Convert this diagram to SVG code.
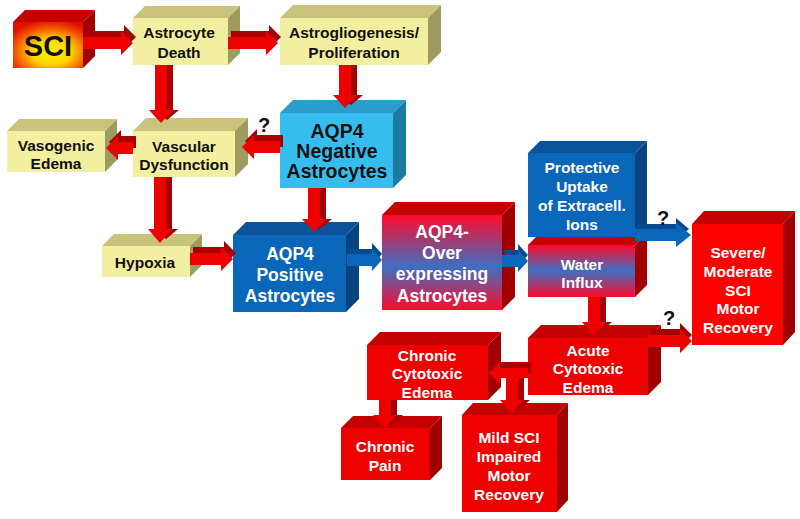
<svg xmlns="http://www.w3.org/2000/svg" width="800" height="519" viewBox="0 0 800 519">
<defs>
<radialGradient id="gSCI" cx="0.55" cy="0.65" r="0.7">
<stop offset="0" stop-color="#fff200"/><stop offset="0.4" stop-color="#ffd400"/><stop offset="0.78" stop-color="#f24a00"/><stop offset="1" stop-color="#e01000"/>
</radialGradient>
<linearGradient id="gRB" x1="0" y1="0" x2="0" y2="1">
<stop offset="0" stop-color="#ff0a2a"/><stop offset="0.55" stop-color="#3d6fc2"/><stop offset="1" stop-color="#ff0a2a"/>
</linearGradient>
<linearGradient id="gRB2" x1="0" y1="0" x2="0" y2="1">
<stop offset="0" stop-color="#ff0a2a"/><stop offset="0.5" stop-color="#3d6fc2"/><stop offset="1" stop-color="#ff0a2a"/>
</linearGradient>
</defs>
<style>
text{font-family:"Liberation Sans",Arial,sans-serif;font-weight:bold;text-anchor:middle}
.yf{fill:#f3efa0}.yt{fill:#c9c37b}.ys{fill:#9d9b5e}
.rf{fill:#ee0000}.rt{fill:#c40000}.rs{fill:#a00000}
.bf{fill:#0a66b8}.bt{fill:#0a5299}.bs{fill:#064480}
.lf{fill:#36bdef}.lt{fill:#2a9dcc}.ls{fill:#1d7ca4}
.k{fill:#111}.w{fill:#fff}
.ar{fill:#ee0000}.ad{fill:#a80000}
.ab{fill:#0a66b8}.abd{fill:#084a90}
</style>
<rect width="800" height="519" fill="#fff"/>

<g id="nodes">
<g id="sci">
<polygon class="rt" points="13,22 25,10 95,10 83,22"/>
<polygon class="rs" points="83,22 95,10 95,56 83,68"/>
<rect x="13" y="22" width="70" height="46" fill="url(#gSCI)"/>
<text x="48" y="56" font-size="29" class="k">SCI</text>
</g>
<g id="astrocyte-death">
<polygon class="yt" points="133,18 145,6 240,6 228,18"/>
<polygon class="ys" points="228,18 240,6 240,53 228,65"/>
<rect class="yf" x="133" y="18" width="95" height="47"/>
<text x="179" y="38" font-size="15.5" class="k">Astrocyte</text>
<text x="179" y="58" font-size="15.5" class="k">Death</text>
</g>
<g id="astrogliogenesis">
<polygon class="yt" points="280,18 293,5 441,5 428,18"/>
<polygon class="ys" points="428,18 441,5 441,52 428,65"/>
<rect class="yf" x="280" y="18" width="148" height="47"/>
<text x="354" y="38" font-size="15.5" class="k">Astrogliogenesis/</text>
<text x="354" y="58" font-size="15.5" class="k">Proliferation</text>
</g>
<g id="vasogenic-edema">
<polygon class="yt" points="7,131 19,119 117,119 105,131"/>
<polygon class="ys" points="105,131 117,119 117,160 105,172"/>
<rect class="yf" x="7" y="131" width="98" height="41"/>
<text x="56" y="151" font-size="15.5" class="k">Vasogenic</text>
<text x="56" y="169" font-size="15.5" class="k">Edema</text>
</g>
<g id="vascular-dysfunction">
<polygon class="yt" points="133,131 146,118 248,118 235,131"/>
<polygon class="ys" points="235,131 248,118 248,164 235,177"/>
<rect class="yf" x="133" y="131" width="102" height="46"/>
<text x="184" y="152" font-size="15.5" class="k">Vascular</text>
<text x="184" y="170" font-size="15.5" class="k">Dysfunction</text>
</g>
<g id="aqp4-negative">
<polygon class="lt" points="280,113 293,100 406,100 393,113"/>
<polygon class="ls" points="393,113 406,100 406,175 393,188"/>
<rect class="lf" x="280" y="113" width="113" height="75"/>
<text x="337" y="138" font-size="19.5" class="k">AQP4</text>
<text x="337" y="158" font-size="19.5" class="k">Negative</text>
<text x="337" y="178" font-size="19.5" class="k">Astrocytes</text>
</g>
<g id="hypoxia">
<polygon class="yt" points="102,246 114,234 202,234 190,246"/>
<polygon class="ys" points="190,246 202,234 202,265 190,277"/>
<rect class="yf" x="102" y="246" width="88" height="31"/>
<text x="145" y="268" font-size="15.5" class="k">Hypoxia</text>
</g>
<g id="aqp4-positive">
<polygon class="bt" points="233,235 246,222 359,222 346,235"/>
<polygon class="bs" points="346,235 359,222 359,299 346,312"/>
<rect class="bf" x="233" y="235" width="113" height="77"/>
<text x="290" y="260" font-size="17.5" class="w">AQP4</text>
<text x="290" y="281" font-size="17.5" class="w">Positive</text>
<text x="290" y="302" font-size="17.5" class="w">Astrocytes</text>
</g>
<g id="aqp4-over">
<polygon class="rt" points="382,215 395,202 515,202 502,215"/>
<polygon class="rs" points="502,215 515,202 515,297 502,310"/>
<rect x="382" y="215" width="120" height="95" fill="url(#gRB)"/>
<text x="442" y="238" font-size="17.5" class="w">AQP4-</text>
<text x="442" y="259" font-size="17.5" class="w">Over</text>
<text x="442" y="280" font-size="17.5" class="w">expressing</text>
<text x="442" y="302" font-size="17.5" class="w">Astrocytes</text>
</g>
<g id="water-influx">
<polygon class="rt" points="528,245 540,233 647,233 635,245"/>
<polygon class="rs" points="635,245 647,233 647,285 635,297"/>
<rect x="528" y="245" width="107" height="52" fill="url(#gRB2)"/>
<text x="582" y="270" font-size="15.5" class="w">Water</text>
<text x="582" y="288" font-size="15.5" class="w">Influx</text>
</g>
<g id="protective-uptake">
<polygon class="bt" points="528,153 540,141 647,141 635,153"/>
<polygon class="bs" points="635,153 647,141 647,225 635,237"/>
<rect class="bf" x="528" y="153" width="107" height="84"/>
<text x="582" y="173" font-size="15.5" class="w">Protective</text>
<text x="582" y="192" font-size="15.5" class="w">Uptake</text>
<text x="582" y="211" font-size="15.5" class="w">of Extracell.</text>
<text x="582" y="230" font-size="15.5" class="w">Ions</text>
</g>
<g id="severe-moderate">
<polygon class="rt" points="692,224 704,211 795,211 783,224"/>
<polygon class="rs" points="783,224 795,211 795,332 783,345"/>
<rect x="692" y="224" width="91" height="121" fill="#ff0000"/>
<text x="738" y="258" font-size="15.5" class="w">Severe/</text>
<text x="738" y="277" font-size="15.5" class="w">Moderate</text>
<text x="738" y="296" font-size="15.5" class="w">SCI</text>
<text x="738" y="314" font-size="15.5" class="w">Motor</text>
<text x="738" y="333" font-size="15.5" class="w">Recovery</text>
</g>
<g id="acute-cytotoxic">
<polygon class="rt" points="528,338 541,325 661,325 648,338"/>
<polygon class="rs" points="648,338 661,325 661,382 648,395"/>
<rect class="rf" x="528" y="338" width="120" height="57"/>
<text x="588" y="356" font-size="15.5" class="w">Acute</text>
<text x="588" y="374" font-size="15.5" class="w">Cytotoxic</text>
<text x="588" y="393" font-size="15.5" class="w">Edema</text>
</g>
<g id="chronic-cytotoxic">
<polygon class="rt" points="367,345 380,332 501,332 488,345"/>
<polygon class="rs" points="488,345 501,332 501,387 488,400"/>
<rect class="rf" x="367" y="345" width="121" height="55"/>
<text x="427" y="361" font-size="15.5" class="w">Chronic</text>
<text x="427" y="379" font-size="15.5" class="w">Cytotoxic</text>
<text x="427" y="398" font-size="15.5" class="w">Edema</text>
</g>
<g id="chronic-pain">
<polygon class="rt" points="341,428 353,416 442,416 430,428"/>
<polygon class="rs" points="430,428 442,416 442,468 430,480"/>
<rect class="rf" x="341" y="428" width="89" height="52"/>
<text x="385" y="452" font-size="15.5" class="w">Chronic</text>
<text x="385" y="471" font-size="15.5" class="w">Pain</text>
</g>
<g id="mild-sci">
<polygon class="rt" points="462,415 473,403 568,403 557,415"/>
<polygon class="rs" points="557,415 568,403 568,500 557,512"/>
<rect class="rf" x="462" y="415" width="95" height="97"/>
<text x="509" y="443" font-size="15.5" class="w">Mild SCI</text>
<text x="509" y="462" font-size="15.5" class="w">Impaired</text>
<text x="509" y="481" font-size="15.5" class="w">Motor</text>
<text x="509" y="500" font-size="15.5" class="w">Recovery</text>
</g>
</g>

<g id="connectors">
<g transform="translate(83,43)">
<polygon class="ad" points="3,-12 41,-12 41,-18 53,-6 41,6 41,0 3,0"/>
<polygon class="ar" points="0,-6 38,-6 38,-12 50,0 38,12 38,6 0,6"/>
</g>
<g transform="translate(228,43)">
<polygon class="ad" points="3,-12 41,-12 41,-18 53,-6 41,6 41,0 3,0"/>
<polygon class="ar" points="0,-6 38,-6 38,-12 50,0 38,12 38,6 0,6"/>
</g>
<g transform="translate(161,65)">
<polygon class="ad" points="0,0 12,0 12,45 18,45 6,55 -6,45 0,45"/>
<polygon class="ar" points="-6,0 6,0 6,45 12,45 0,58 -12,45 -6,45"/>
</g>
<g transform="translate(345,65)">
<polygon class="ad" points="0,0 12,0 12,30 18,30 6,40 -6,30 0,30"/>
<polygon class="ar" points="-6,0 6,0 6,30 12,30 0,43 -12,30 -6,30"/>
</g>
<g transform="translate(280,147)">
<polygon class="ad" points="3,-12 -23,-12 -23,-18 -35,-6 -23,6 -23,0 3,0"/>
<polygon class="ar" points="0,-6 -26,-6 -26,-12 -38,0 -26,12 -26,6 0,6"/>
</g>
<g transform="translate(133,148)">
<polygon class="ad" points="3,-12 -12,-12 -12,-18 -24,-6 -12,6 -12,0 3,0"/>
<polygon class="ar" points="0,-6 -15,-6 -15,-12 -27,0 -15,12 -15,6 0,6"/>
</g>
<g transform="translate(160,177)">
<polygon class="ad" points="0,0 12,0 12,52 18,52 6,62 -6,52 0,52"/>
<polygon class="ar" points="-6,0 6,0 6,52 12,52 0,66 -12,52 -6,52"/>
</g>
<g transform="translate(314,188)">
<polygon class="ad" points="0,0 12,0 12,31 18,31 6,41 -6,31 0,31"/>
<polygon class="ar" points="-6,0 6,0 6,31 12,31 0,44 -12,31 -6,31"/>
</g>
<g transform="translate(190,259)">
<polygon class="ad" points="3,-12 34,-12 34,-18 46,-6 34,6 34,0 3,0"/>
<polygon class="ar" points="0,-6 31,-6 31,-12 43,0 31,12 31,6 0,6"/>
</g>
<g transform="translate(347,260)">
<polygon class="abd" points="2,-11 25,-11 25,-17 35,-6 25,5 25,0 2,0"/>
<polygon class="ab" points="0,-6 25,-6 25,-11 35,0 25,11 25,6 0,6"/>
</g>
<g transform="translate(502,261)">
<polygon class="abd" points="2,-11 16,-11 16,-17 26,-6 16,5 16,0 2,0"/>
<polygon class="ab" points="0,-6 16,-6 16,-11 26,0 16,11 16,6 0,6"/>
</g>
<g transform="translate(635,235)">
<polygon class="abd" points="2,-11 41,-11 41,-17 54,-6 41,5 41,0 2,0"/>
<polygon class="ab" points="0,-6 41,-6 41,-12 56,0 41,12 41,6 0,6"/>
</g>
<g transform="translate(594,297)">
<polygon class="ad" points="0,0 12,0 12,25 18,25 6,35 -6,25 0,25"/>
<polygon class="ar" points="-6,0 6,0 6,25 12,25 0,39 -12,25 -6,25"/>
</g>
<g transform="translate(648,341)">
<polygon class="ad" points="3,-12 32,-12 32,-18 44,-6 32,6 32,0 3,0"/>
<polygon class="ar" points="0,-6 32,-6 32,-12 44,0 32,12 32,6 0,6"/>
</g>
<g transform="translate(528,373)">
<polygon class="ad" points="3,-11 -28,-11 -28,-17 -39,-6 -28,5 -28,0 3,0"/>
<polygon class="ad" points="-16,0 -4,0 -4,27 2,27 -10,37 -22,27 -16,27"/>
<polygon class="ar" points="-22,4 -10,4 -10,27 -4,27 -16,40 -28,27 -22,27"/>
<polygon class="ar" points="0,-5 -28,-5 -28,-11 -39,0 -28,11 -28,5 0,5"/>
</g>
<g transform="translate(385,400)">
<polygon class="ad" points="0,0 12,0 12,15 18,15 6,25 -6,15 0,15"/>
<polygon class="ar" points="-6,0 6,0 6,15 12,15 0,28 -12,15 -6,15"/>
</g>
<text x="264" y="132" font-size="20" class="k">?</text>
<text x="663" y="225" font-size="20" class="k">?</text>
<text x="669" y="325" font-size="20" class="k">?</text>
</g>
</svg>
